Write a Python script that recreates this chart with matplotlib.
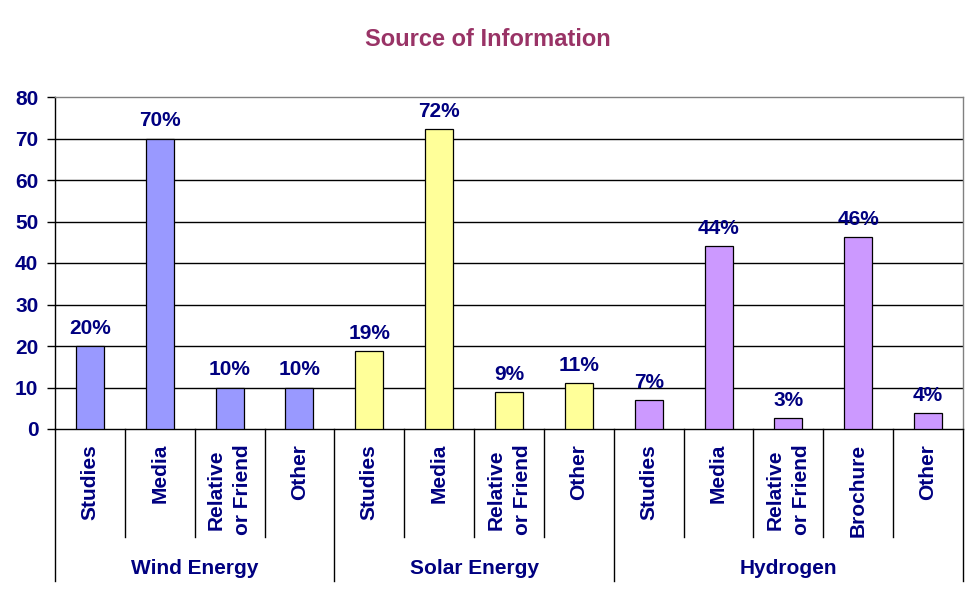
import matplotlib

matplotlib.use("Agg")
import matplotlib.pyplot as plt

groups = ["Wind Energy", "Solar Energy", "Hydrogen"]
group_sizes = [4, 4, 5]
categories = [
    "Studies", "Media", "Relative\nor Friend", "Other",
    "Studies", "Media", "Relative\nor Friend", "Other",
    "Studies", "Media", "Relative\nor Friend", "Brochure", "Other",
]
values = [20, 70, 10, 10, 18.8, 72.3, 8.9, 11.1, 6.9, 44.1, 2.6, 46.3, 3.8]
value_labels = ["20%", "70%", "10%", "10%", "19%", "72%", "9%", "11%",
                "7%", "44%", "3%", "46%", "4%"]
group_colors = ["#9999FF", "#FFFF99", "#CC99FF"]
y_ticks = [0, 10, 20, 30, 40, 50, 60, 70, 80]

NAVY = "#000080"
FS = 15
plt.rcParams["font.family"] = ["Liberation Sans", "DejaVu Sans"]
plt.rcParams["font.weight"] = "bold"

fig = plt.figure(figsize=(9.77, 6.01), dpi=100)
ax = fig.add_axes([55 / 977, 172 / 601, 908 / 977, 332 / 601])

colors = []
for color, size in zip(group_colors, group_sizes):
    colors += [color] * size

xs = list(range(len(values)))
ax.bar(xs, values, width=0.4, color=colors, edgecolor="black", linewidth=0.9, zorder=3)
for x, v, lab in zip(xs, values, value_labels):
    ax.annotate(lab, (x, v), xytext=(0, 6), textcoords="offset points",
                ha="center", va="bottom", color=NAVY, fontsize=FS, fontweight="bold")

ax.set_xlim(-0.5, len(values) - 0.5)
ax.set_ylim(0, 80)
ax.set_yticks(y_ticks)
ax.set_yticklabels([str(t) for t in y_ticks], color=NAVY, fontsize=FS, fontweight="bold")
ax.tick_params(axis="y", direction="out", length=6, width=1, color="black", pad=6)
ax.set_xticks([])
for t in y_ticks[1:-1]:
    ax.axhline(t, color="black", linewidth=1, zorder=1)

for side in ["top", "right"]:
    ax.spines[side].set_color("#808080")
    ax.spines[side].set_linewidth(1)
for side in ["left", "bottom"]:
    ax.spines[side].set_color("black")
    ax.spines[side].set_linewidth(1)

trans = ax.get_xaxis_transform()
short_y = -108 / 332
long_y = -152 / 332
boundaries = [0]
for size in group_sizes:
    boundaries.append(boundaries[-1] + size)
for i in range(len(values) + 1):
    bottom = long_y if i in boundaries else short_y
    ax.plot([i - 0.5, i - 0.5], [0, bottom], transform=trans, color="black",
            linewidth=1, clip_on=False)

for x, cat in zip(xs, categories):
    ax.text(x, -15 / 332, cat, transform=trans, rotation=90, ha="center", va="top",
            multialignment="center", color=NAVY, fontsize=FS, fontweight="bold",
            linespacing=1.5)

for g, name in enumerate(groups):
    center = (boundaries[g] + boundaries[g + 1]) / 2 - 0.5
    ax.text(center, -140 / 332, name, transform=trans, ha="center", va="center",
            color=NAVY, fontsize=FS, fontweight="bold")

fig.text(488 / 977, 1 - 39 / 601, "Source of Information", ha="center", va="center",
         color="#993366", fontsize=17, fontweight="bold")

fig.savefig("out.png", dpi=100)
